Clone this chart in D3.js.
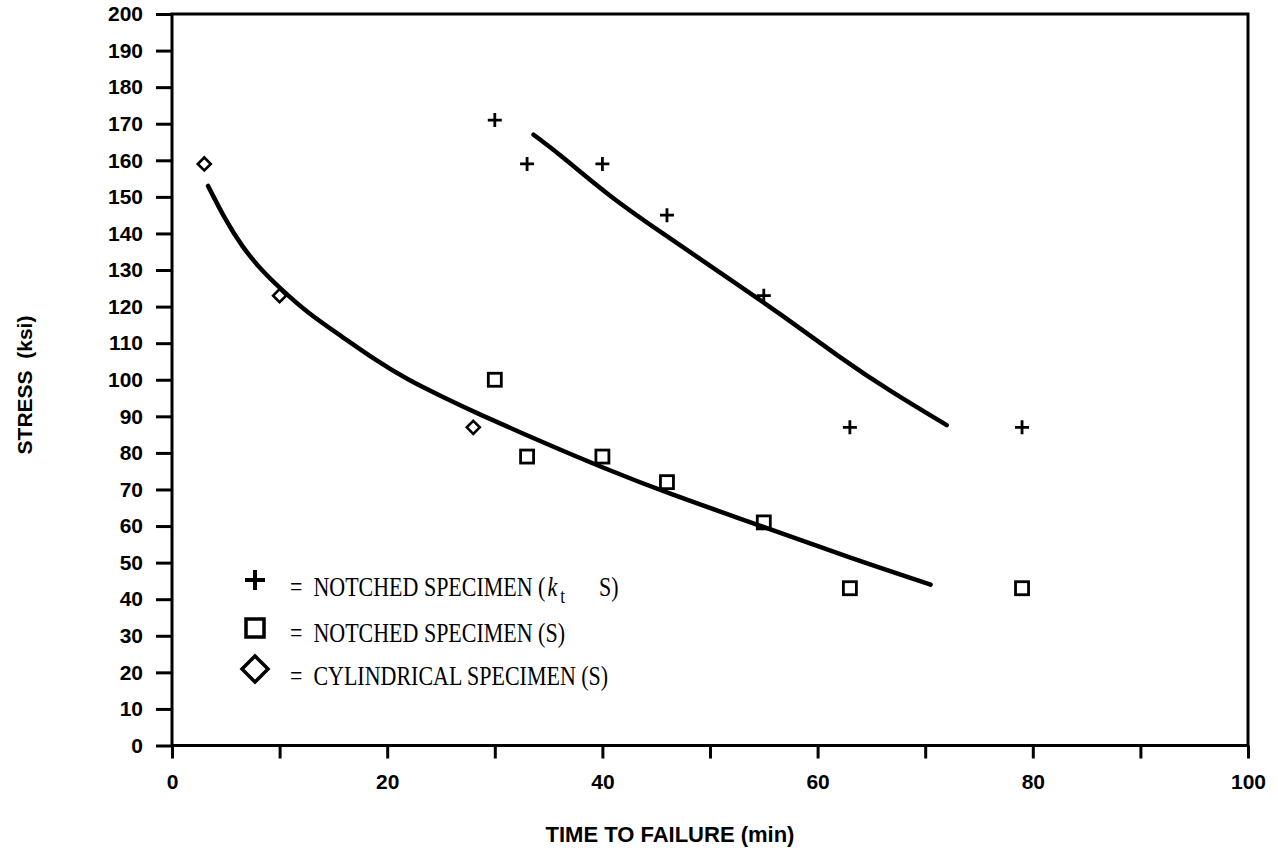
<!DOCTYPE html>
<html>
<head>
<meta charset="utf-8">
<script src="https://cdnjs.cloudflare.com/ajax/libs/d3/7.8.5/d3.min.js"></script>
<style>
body { margin: 0; background: #fff; }
svg { display: block; }
</style>
</head>
<body>
<svg></svg>
<script>
var width = 1278;
var height = 851;
var margin = {top: 14, right: 30, bottom: 105, left: 172};

// data
var notchedKt = [[30,171],[33,159],[40,159],[46,145],[55,123],[63,87],[79,87]];
var notchedS = [[30,100],[33,79],[40,79],[46,72],[55,61],[63,43],[79,43]];
var cylindrical = [[3,159],[10,123],[28,87]];
var fitUpper = [[33.6,167],[36.1,161.5],[40.7,150],[45.6,140],[50.6,130],[56.8,117.5],[62.1,106],[66.7,96.9],[72,87.6]];
var fitLower = [[3.35,153],[4.9,144],[6.5,136.4],[8.3,130],[10.2,124.6],[12.6,118.3],[15.8,111.8],[18.9,105.4],[21.9,100],[25.1,95.4],[28.2,91],[35,82.2],[40,76],[46,69],[55,59.8],[63,51.3],[70.5,44]];
var xTicks = d3.range(0, 101, 10);
var xLabels = [0, 20, 40, 60, 80, 100];
var yTicks = d3.range(0, 201, 10);

var svg = d3.select("svg").attr("width", width).attr("height", height);

var x = d3.scaleLinear().domain([0, 100]).range([margin.left, 1248]);
var y = d3.scaleLinear().domain([0, 200]).range([745.5, margin.top]);

var sans = "Liberation Sans, Arial, sans-serif";
var serif = "Liberation Serif, Times New Roman, serif";

// frame
svg.append("rect")
  .attr("x", x(0)).attr("y", y(200))
  .attr("width", x(100) - x(0)).attr("height", y(0) - y(200))
  .attr("fill", "none").attr("stroke", "#000").attr("stroke-width", 3);

// axes
var xAxis = d3.axisBottom(x).tickValues(xTicks).tickSize(13)
  .tickFormat(d => xLabels.indexOf(d) >= 0 ? d : "");
var gx = svg.append("g").attr("transform", "translate(0," + y(0) + ")").call(xAxis);
gx.select(".domain").remove();
gx.selectAll(".tick line").attr("stroke-width", 3);
gx.selectAll(".tick text")
  .attr("y", 29).attr("dy", "0.71em")
  .style("font-family", sans).style("font-weight", "bold").style("font-size", "21px");

var yAxis = d3.axisLeft(y).tickValues(yTicks).tickSize(16);
var gy = svg.append("g").attr("transform", "translate(" + x(0) + ",0)").call(yAxis);
gy.select(".domain").remove();
gy.selectAll(".tick line").attr("stroke-width", 3);
gy.selectAll(".tick text")
  .attr("x", -29)
  .style("font-family", sans).style("font-weight", "bold").style("font-size", "21px");

// axis titles
svg.append("text")
  .attr("x", 670).attr("y", 842)
  .attr("text-anchor", "middle")
  .style("font-family", sans).style("font-weight", "bold").style("font-size", "22px")
  .text("TIME TO FAILURE (min)");

svg.append("text")
  .attr("transform", "translate(32,385) rotate(-90)")
  .attr("text-anchor", "middle")
  .style("font-family", sans).style("font-weight", "bold").style("font-size", "21px")
  .style("white-space", "pre")
  .text("STRESS  (ksi)");

// fitted curves
var line = d3.line()
  .x(d => x(d[0]))
  .y(d => y(d[1]))
  .curve(d3.curveBasis);

[fitUpper, fitLower].forEach(function(data) {
  svg.append("path")
    .attr("d", line(data))
    .attr("fill", "none")
    .attr("stroke", "#000")
    .attr("stroke-width", 4.5)
    .attr("stroke-linecap", "round")
    .attr("stroke-linejoin", "round");
});

// markers
function plus(g, s) {
  g.append("path")
    .attr("d", "M" + (-s) + ",0H" + s + "M0," + (-s) + "V" + s)
    .attr("stroke", "#000").attr("stroke-width", 2.8).attr("fill", "none");
}
function square(g, s) {
  g.append("rect")
    .attr("x", -s).attr("y", -s).attr("width", 2 * s).attr("height", 2 * s)
    .attr("stroke", "#000").attr("stroke-width", 2.8).attr("fill", "none");
}
function diamond(g, s) {
  g.append("path")
    .attr("d", "M0," + (-s) + "L" + s + ",0L0," + s + "L" + (-s) + ",0Z")
    .attr("stroke", "#000").attr("stroke-width", 2.6).attr("fill", "none");
}

svg.selectAll(".kt").data(notchedKt).enter().append("g")
  .attr("transform", d => "translate(" + x(d[0]) + "," + y(d[1]) + ")")
  .each(function() { plus(d3.select(this), 7); });

svg.selectAll(".ns").data(notchedS).enter().append("g")
  .attr("transform", d => "translate(" + x(d[0]) + "," + y(d[1]) + ")")
  .each(function() { square(d3.select(this), 6.5); });

svg.selectAll(".cy").data(cylindrical).enter().append("g")
  .attr("transform", d => "translate(" + x(d[0]) + "," + y(d[1]) + ")")
  .each(function() { diamond(d3.select(this), 6.5); });

// legend
var legend = svg.append("g");
var lg1 = legend.append("g").attr("transform", "translate(255,580)");
plus(lg1, 10);
lg1.select("path").attr("stroke-width", 4);
var lg2 = legend.append("g").attr("transform", "translate(255,628)");
square(lg2, 9);
lg2.select("rect").attr("stroke-width", 3.5);
var lg3 = legend.append("g").attr("transform", "translate(255,669)");
diamond(lg3, 13);
lg3.select("path").attr("stroke-width", 3.5);

function legendText(yy) {
  return legend.append("text").attr("x", 290).attr("y", yy)
    .style("font-family", serif).style("font-size", "22px")
    .style("white-space", "pre")
    .attr("transform", "translate(0," + yy + ") scale(1,1.2) translate(0," + (-yy) + ")");
}
var t1 = legendText(596);
t1.append("tspan").text("=  NOTCHED SPECIMEN (");
t1.append("tspan").attr("dx", 2).style("font-style", "italic").text("k");
t1.append("tspan").attr("dx", 3).attr("dy", 6).style("font-size", "17px").text("t");
t1.append("tspan").attr("dx", 34).attr("dy", -6).text("S)");

legendText(642).text("=  NOTCHED SPECIMEN (S)");
legendText(685).text("=  CYLINDRICAL SPECIMEN (S)");
</script>
</body>
</html>
